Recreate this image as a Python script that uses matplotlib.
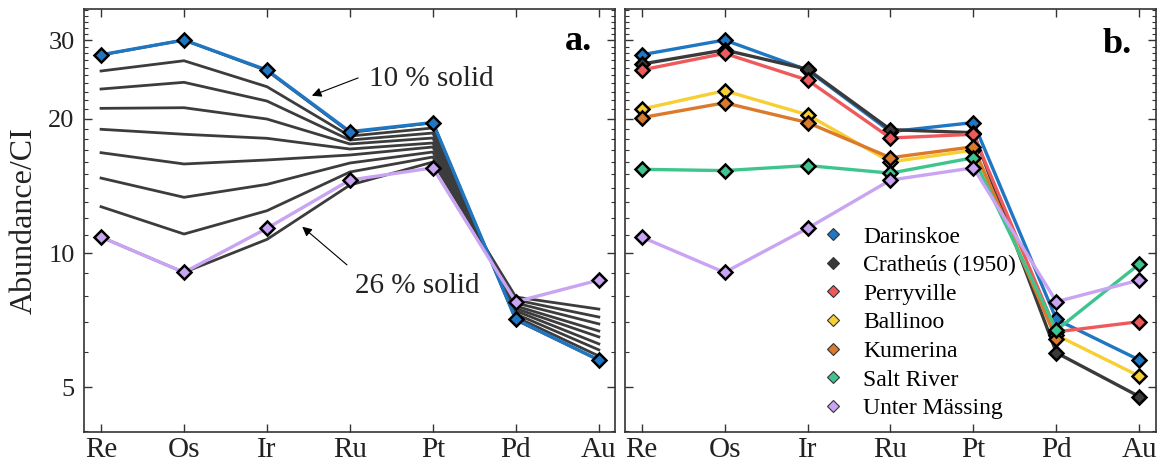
import numpy as np
import matplotlib
matplotlib.use("Agg")
import matplotlib.pyplot as plt
from matplotlib.lines import Line2D
from matplotlib.ticker import FixedLocator, NullFormatter

plt.rcParams['font.family'] = ['Liberation Serif', 'DejaVu Serif']

# elements on the x axis
elements = ['Re', 'Os', 'Ir', 'Ru', 'Pt', 'Pd', 'Au']

# measured meteorite patterns (CI normalised)
darinskoe = [27.8, 30.0, 25.7, 18.7, 19.6, 7.10, 5.76]
cratheus = [26.5, 28.5, 25.8, 18.9, 18.6, 5.98, 4.77]
perryville = [25.7, 28.0, 24.4, 18.1, 18.45, 6.66, 7.02]
ballinoo = [21.0, 23.1, 20.4, 16.0, 17.0, 6.55, 5.30]
kumerina = [20.1, 21.7, 19.6, 16.35, 17.3, 6.41, np.nan]  # no Au value
salt_river = [15.4, 15.3, 15.7, 15.1, 16.35, 6.72, 9.45]
unter_massing = [10.86, 9.05, 11.36, 14.57, 15.52, 7.78, 8.70]

# model curves, 10 % -> 26 % solid
model_solid = [10, 12, 14, 16, 18, 20, 22, 24, 26]
model_lines = [
    [27.77, 30.0, 25.61, 18.62, 19.58, 7.08, 5.76],
    [25.57, 26.96, 23.58, 18.28, 19.06, 7.19, 5.88],
    [23.30, 24.12, 21.90, 17.91, 18.57, 7.30, 6.07],
    [21.09, 21.16, 19.96, 17.55, 18.10, 7.42, 6.26],
    [18.93, 18.45, 18.07, 17.10, 17.64, 7.51, 6.49],
    [16.78, 15.83, 16.16, 16.58, 17.28, 7.61, 6.69],
    [14.72, 13.33, 14.25, 15.91, 16.84, 7.73, 6.94],
    [12.70, 11.03, 12.44, 15.19, 16.41, 7.85, 7.19],
    [10.86, 9.05, 10.73, 14.20, 15.99, 7.97, 7.49],
]

names = ['Darinskoe', 'Cratheús (1950)', 'Perryville', 'Ballinoo',
         'Kumerina', 'Salt River', 'Unter Mässing']
colors = ['#1f76c2', '#3a3a3a', '#ee5a5c', '#f7cf32', '#dc7a2c',
          '#3fc48e', '#c9a4f2']
series = [darinskoe, cratheus, perryville, ballinoo, kumerina,
          salt_river, unter_massing]

x = np.arange(1, len(elements) + 1)


def StyleAxes(ax, show_ylabels):
    ax.set_yscale('log')
    ax.set_ylim(3.98, 35.15)
    ax.set_xlim(0.8, 7.2)
    ax.set_xticks(x)
    ax.set_xticklabels(elements)
    ax.yaxis.set_major_locator(FixedLocator([5, 10, 20, 30]))
    ax.yaxis.set_major_formatter(matplotlib.ticker.FixedFormatter(['5', '10', '20', '30']))
    ax.yaxis.set_minor_locator(FixedLocator([v for v in range(4, 36) if v not in (5, 10, 20, 30)]))
    ax.yaxis.set_minor_formatter(NullFormatter())
    ax.tick_params(which='both', direction='in', top=True, right=True, colors='#333333')
    ax.tick_params(which='major', length=6, width=1)
    ax.tick_params(which='minor', length=3, width=0.8)
    ax.tick_params(axis='x', labelsize=21, pad=4, labelcolor='#222222')
    ax.tick_params(axis='y', labelsize=19, pad=7, labelcolor='#222222', labelleft=show_ylabels)
    for s in ax.spines.values():
        s.set_color('#333333')
        s.set_linewidth(1.2)


fig = plt.figure(figsize=(11.68, 4.72), dpi=100)
ax_a = fig.add_axes([0.0723, 0.0854, 0.4546, 0.8949])
ax_b = fig.add_axes([0.5351, 0.0854, 0.4546, 0.8949])

# panel a: model curves with the two end member meteorites
for curve in model_lines:
    ax_a.plot(x, curve, color='#3c3c3c', lw=2, zorder=2)
ax_a.plot(x, darinskoe, color=colors[0], lw=2.4, zorder=3,
          marker='D', ms=7.5, mfc=colors[0], mec='k', mew=1.8)
ax_a.plot(x, unter_massing, color=colors[6], lw=2.4, zorder=3,
          marker='D', ms=7.5, mfc=colors[6], mec='k', mew=1.8)

ax_a.annotate('', xy=(3.51, 22.4), xytext=(4.13, 24.8),
              arrowprops=dict(arrowstyle='-|>', color='k', lw=0.8, mutation_scale=14))
ax_a.text(4.23, 23.67, '10 % solid', fontsize=21, ha='left', va='baseline', color='#222222')
ax_a.annotate('', xy=(3.40, 11.56), xytext=(3.99, 9.32),
              arrowprops=dict(arrowstyle='-|>', color='k', lw=0.8, mutation_scale=14))
ax_a.text(4.06, 8.12, '26 % solid', fontsize=21, ha='left', va='baseline', color='#222222')
ax_a.text(0.957, 0.903, 'a.', transform=ax_a.transAxes, fontsize=26,
          fontweight='bold', ha='right', va='baseline')
StyleAxes(ax_a, True)

# panel b: all meteorites
for vals, col in zip(series, colors):
    ax_b.plot(x, vals, color=col, lw=2.4,
              marker='D', ms=7.5, mfc=col, mec='k', mew=1.8)
ax_b.text(0.955, 0.897, 'b.', transform=ax_b.transAxes, fontsize=26,
          fontweight='bold', ha='right', va='baseline')
StyleAxes(ax_b, False)

handles = [Line2D([], [], ls='none', marker='D', ms=6.5, mfc=c, mec='#333333', mew=0.8)
           for c in colors]
ax_b.legend(handles, names, loc='upper left', bbox_to_anchor=(0.369, 0.487),
            frameon=False, fontsize=17, borderpad=0, borderaxespad=0,
            handlelength=1.0, handletextpad=0.78, labelspacing=0.3)

fig.text(0.021, 0.532, 'Abundance/CI', rotation=90, ha='center', va='center',
         fontsize=23, color='#222222')

fig.savefig('out.png', dpi=100)
